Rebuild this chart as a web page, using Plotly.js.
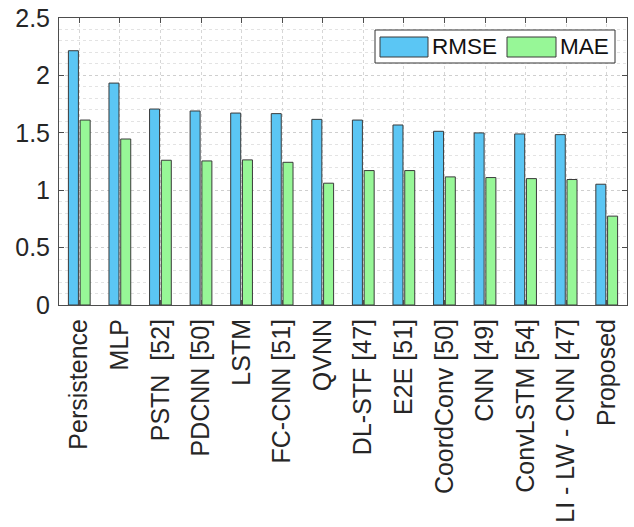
<!DOCTYPE html>
<html>
<head>
<meta charset="utf-8">
<script src="https://cdn.plot.ly/plotly-3.0.1.min.js"></script>
<style>
  html, body { margin: 0; padding: 0; background: #fff; }
  #chart { width: 634px; height: 527px; }
</style>
</head>
<body>
<div id="chart"></div>
<script>
// Forecasting error of each method
const methods = [
  "Persistence", "MLP", "PSTN\u00a0\u00a0[52]", "PDCNN [50]", "LSTM", "FC-CNN [51]",
  "QVNN", "DL-STF [47]", "E2E [51]", "CoordConv [50]", "CNN [49]",
  "ConvLSTM [54]", "LI - LW - CNN [47]", "Proposed"
];
const seriesNames = ["RMSE", "MAE"];
const rmse = [2.215, 1.933, 1.707, 1.690, 1.672, 1.667, 1.617, 1.611, 1.568, 1.513, 1.499, 1.490, 1.484, 1.052];
const mae  = [1.611, 1.446, 1.261, 1.255, 1.264, 1.243, 1.061, 1.171, 1.171, 1.116, 1.110, 1.101, 1.093, 0.774];
const yTicks = [0, 0.5, 1, 1.5, 2, 2.5];

const blue = "#5BC6F4";
const green = "#97F797";
const edge = "#3a3a3a";
const font = "Liberation Sans, Arial, sans-serif";

const traces = [
  { type: "bar", name: seriesNames[0], x: methods, y: rmse,
    marker: { color: blue, line: { color: edge, width: 1 } }, showlegend: false },
  { type: "bar", name: seriesNames[1], x: methods, y: mae,
    marker: { color: green, line: { color: edge, width: 1 } }, showlegend: false }
];

// Plot-area geometry, used to place the boxed legend in paper coordinates
const M = { l: 59, r: 7, t: 18, b: 222 };
const W = 634 - M.l - M.r, H = 527 - M.t - M.b;
const px = (x) => (x - M.l) / W;
const py = (y) => (527 - M.b - y) / H;

const shapes = [
  { type: "rect", xref: "paper", yref: "paper", x0: px(375), x1: px(615), y0: py(63), y1: py(30),
    fillcolor: "#ffffff", line: { color: "#333333", width: 1 }, layer: "above" },
  { type: "rect", xref: "paper", yref: "paper", x0: px(380), x1: px(428), y0: py(57), y1: py(37),
    fillcolor: blue, line: { color: edge, width: 1 }, layer: "above" },
  { type: "rect", xref: "paper", yref: "paper", x0: px(507), x1: px(556), y0: py(57), y1: py(37),
    fillcolor: green, line: { color: edge, width: 1 }, layer: "above" }
];
const annotations = [
  { xref: "paper", yref: "paper", x: px(430), y: py(47), xanchor: "left", yanchor: "middle",
    text: seriesNames[0], showarrow: false, font: { family: font, size: 22.5, color: "#111" } },
  { xref: "paper", yref: "paper", x: px(558), y: py(47), xanchor: "left", yanchor: "middle",
    text: seriesNames[1], showarrow: false, font: { family: font, size: 22.5, color: "#111" } }
];

const layout = {
  width: 634, height: 527,
  margin: { l: M.l, r: M.r, t: M.t, b: M.b, pad: 0 },
  paper_bgcolor: "#ffffff", plot_bgcolor: "#ffffff",
  font: { family: font, size: 25, color: "#262626" },
  barmode: "group", bargap: 0.42, bargroupgap: 0.15,
  showlegend: false,
  xaxis: {
    type: "category", tickangle: -90,
    showline: true, linecolor: "#4d4d4d", linewidth: 1, mirror: "ticks",
    ticks: "inside", ticklen: 5, tickcolor: "#4d4d4d",
    showgrid: true, gridcolor: "#d6d6d6", griddash: "dot", gridwidth: 1,
    tickfont: { family: font, size: 25, color: "#262626" },
    automargin: false, ticklabelstandoff: 3
  },
  yaxis: {
    range: [0, 2.5], tickvals: yTicks, ticktext: yTicks.map(String),
    showline: true, linecolor: "#4d4d4d", linewidth: 1, mirror: "ticks",
    ticks: "inside", ticklen: 5, tickcolor: "#4d4d4d",
    showgrid: true, gridcolor: "#cfcfcf", griddash: "dot", gridwidth: 1,
    minor: { dtick: 0.1, showgrid: true, gridcolor: "#e3e3e3", griddash: "dot", gridwidth: 1 },
    zeroline: false,
    tickfont: { family: font, size: 25, color: "#262626" },
    automargin: false, ticklabelstandoff: 3
  },
  shapes: shapes,
  annotations: annotations
};

Plotly.newPlot("chart", traces, layout, { displayModeBar: false, staticPlot: true });
</script>
</body>
</html>
